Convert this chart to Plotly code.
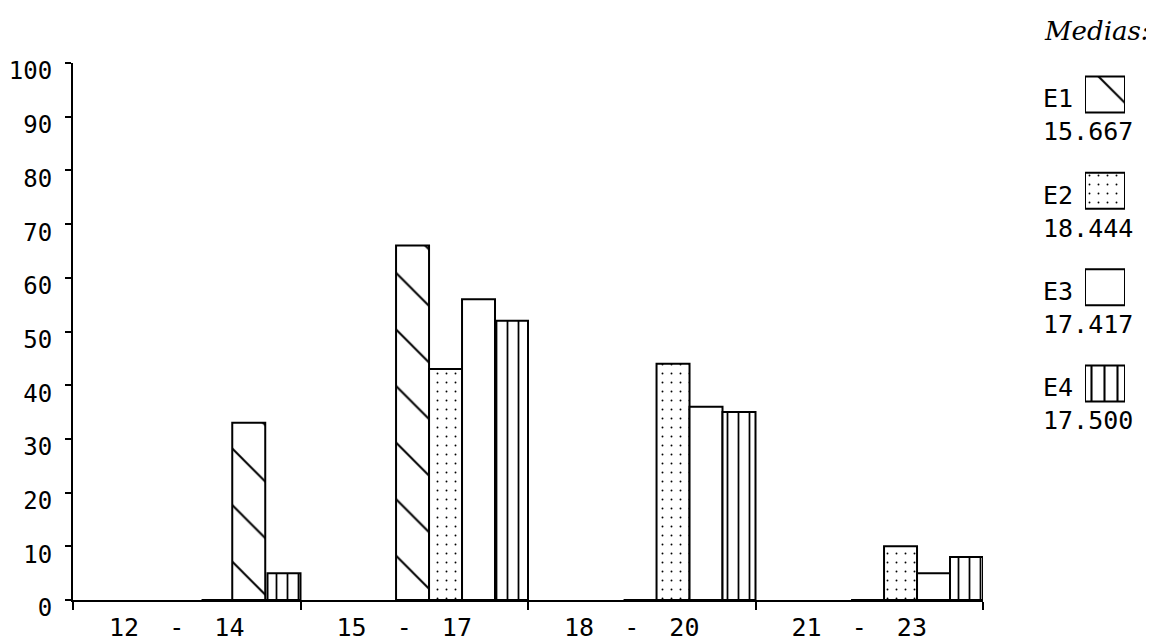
import plotly.graph_objects as go

# ---- data ----
intervals = ["12 - 14", "15 - 17", "18 - 20", "21 - 23"]
series = ["E1", "E2", "E3", "E4"]
e1 = [33, 66, 0, 0]
e2 = [0, 43, 44, 10]
e3 = [0, 56, 36, 5]
e4 = [5, 52, 35, 8]
means = ["15.667", "18.444", "17.417", "17.500"]
y_ticks = [0, 10, 20, 30, 40, 50, 60, 70, 80, 90, 100]

values = [e1, e2, e3, e4]

# ---- styling ----
# the page body has an 8px margin, so the figure is laid out 8px in from the window corner
PAD = 8
W, H = 1154 - PAD, 641
ML, MR, MT = 73 - PAD, 2, 63 - PAD
MB = H - (600 - PAD)
PW, PH = W - ML - MR, H - MT - MB

def xp(px):  # window pixel -> paper fraction
    return (px - PAD - ML) / PW

def yp(py):
    return (H - MB - (py - PAD)) / PH

mono = "DejaVu Sans Mono"
bw = 0.145
offsets = [[0.20, -0.08, -0.08, -0.08], -0.08 + bw, -0.08 + 2 * bw, -0.08 + 3 * bw]
patterns = [
    dict(shape="\\", size=40, solidity=0.05, fgcolor="black", bgcolor="white", fillmode="replace"),
    dict(shape=".", size=9, solidity=0.035, fgcolor="black", bgcolor="white", fillmode="replace"),
    dict(shape="", fgcolor="black", bgcolor="white"),
    dict(shape="|", size=11, solidity=0.16, fgcolor="black", bgcolor="white", fillmode="replace"),
]

fig = go.Figure()
for name, vals, off, pat in zip(series, values, offsets, patterns):
    fig.add_trace(go.Bar(
        x=intervals, y=vals, name=name, offset=off, width=bw,
        marker=dict(color="white", line=dict(color="black", width=2), pattern=pat),
        showlegend=False,
    ))

# legend swatches (same marker styles) on an auxiliary axis pair
legend_len = [1]
for name, pat in zip(series, patterns):
    pat2 = dict(pat)
    if pat2.get("shape") == "|":
        pat2["size"] = 13
    fig.add_trace(go.Bar(
        x=legend_len, y=[name], orientation="h", xaxis="x2", yaxis="y2",
        width=0.374,
        marker=dict(color="white", line=dict(color="black", width=2), pattern=pat2),
        showlegend=False, hoverinfo="skip",
    ))

annotations = [dict(
    text="Medias:", x=xp(1042), y=yp(31), xref="paper", yref="paper",
    xanchor="left", yanchor="middle", showarrow=False,
    font=dict(family="DejaVu Serif", size=26, style="italic", color="black"),
)]
for i, (name, m) in enumerate(zip(series, means)):
    box_c = 94.5 + 96.3 * i
    annotations.append(dict(
        text=f"{name}<br>{m}", x=xp(1041), y=yp(box_c + 21), xref="paper", yref="paper",
        xanchor="left", yanchor="middle", align="left", showarrow=False,
        font=dict(family=mono, size=25, color="black")))

sp = "\u00a0\u00a0"
fig.update_layout(
    width=W, height=H,
    margin=dict(l=ML, r=MR, t=MT, b=MB, autoexpand=False),
    paper_bgcolor="white", plot_bgcolor="white",
    barmode="overlay",
    annotations=annotations,
    xaxis=dict(
        domain=[0, xp(983)], type="category", range=[-0.5, 3.5],
        tickmode="array", tickvals=intervals,
        ticktext=[s.replace(" ", sp) for s in intervals],
        tickson="boundaries", ticks="outside", ticklen=8, tickwidth=2, tickcolor="black",
        showline=True, linecolor="black", linewidth=2,
        showgrid=False, zeroline=False, automargin=False,
        tickfont=dict(family=mono, size=25, color="black"),
        ticklabelshift=-10, ticklabelstandoff=4,
    ),
    yaxis=dict(
        range=[0, 100], tickmode="array", tickvals=y_ticks,
        ticks="outside", ticklen=6, tickwidth=2, tickcolor="black",
        showline=True, linecolor="black", linewidth=2,
        showgrid=False, zeroline=False, automargin=False,
        tickfont=dict(family=mono, size=24, color="black"),
        ticklabelshift=8, ticklabelstandoff=8,
    ),
    xaxis2=dict(domain=[xp(1085), xp(1125)], range=[0, 1], visible=False, anchor="y2"),
    yaxis2=dict(domain=[yp(439), 1.0], type="category", categoryarray=series,
                range=[3.576, -0.327], visible=False, anchor="x2"),
)

fig.write_html("out.html")
